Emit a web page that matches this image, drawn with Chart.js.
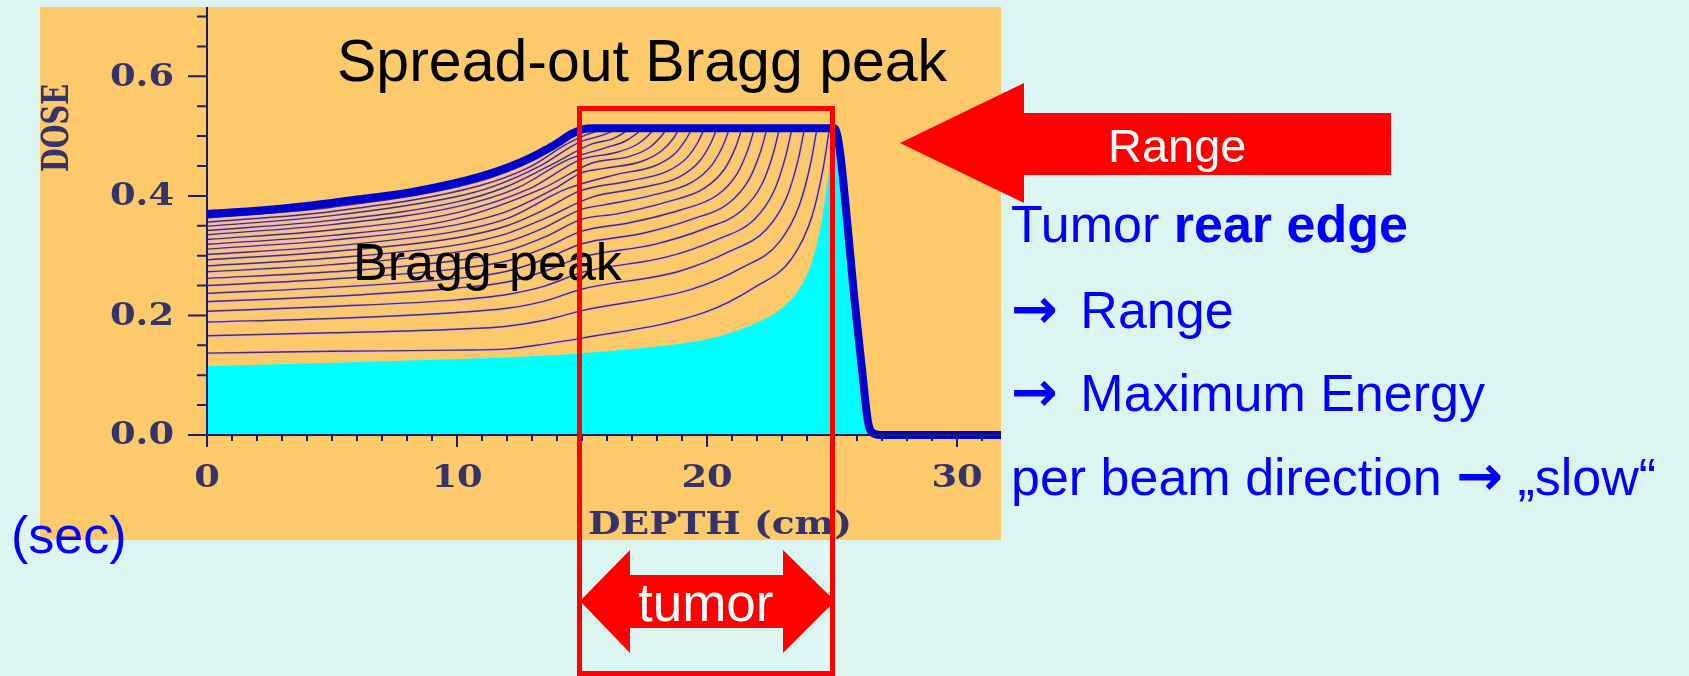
<!DOCTYPE html>
<html lang="en">
<head>
  <meta charset="UTF-8" />
  <title>Spread-out Bragg peak</title>
  <script src="https://cdn.jsdelivr.net/npm/chart.js"></script>
  <style>
    html, body { margin: 0; padding: 0; }
    body {
      width: 1689px; height: 676px; position: relative; overflow: hidden;
      background: #ddf5f1;
      font-family: "Liberation Sans", Arial, sans-serif;
    }
    #panel { position: absolute; left: 40px; top: 7px; width: 961px; height: 533px; background: #fcc96b; }
    #panel canvas { display: block; }
    .txt { position: absolute; white-space: nowrap; line-height: 1; }
    .blue { color: #0000ff; font-size: 52px; left: 1011px; }
    .arr { font-family: "DejaVu Sans", sans-serif; font-weight: bold; font-size: 56px; }
    .gap { margin-right: 8px; }
    .red { position: absolute; background: #ff0000; }
    #tumorBox { position: absolute; left: 577px; top: 106px; width: 258px; height: 570px; border: 5px solid #ff0000; box-sizing: border-box; }
  </style>
</head>
<body>

  <div id="panel"><canvas id="dose" width="961" height="533"></canvas></div>

  <div class="txt" style="left:337px; top:32px; font-size:59px; color:#000;">Spread-out Bragg peak</div>
  <div class="txt" style="left:353px; top:236px; font-size:52px; color:#000;">Bragg-peak</div>

  <div id="tumorBox"></div>

  <!-- range arrow -->
  <div class="red" style="left:900px; top:83px; width:491px; height:120px;
       clip-path: polygon(0 60px, 124px 0, 124px 30px, 491px 30px, 491px 92px, 124px 92px, 124px 120px);"></div>
  <div class="txt" style="left:1108px; top:122px; font-size:47px; color:#fff;">Range</div>

  <!-- tumor arrow -->
  <div class="red" style="left:580px; top:550px; width:255px; height:103px;
       clip-path: polygon(0 51px, 50px 0, 50px 25px, 203px 25px, 203px 0, 255px 51px, 203px 103px, 203px 78px, 50px 78px, 50px 103px);"></div>
  <div class="txt" style="left:638px; top:576px; font-size:53px; color:#fff;">tumor</div>

  <div class="txt blue" style="top:198px;">Tumor <b>rear edge</b></div>
  <div class="txt blue" style="top:281px;"><span class="arr gap">→</span> Range</div>
  <div class="txt blue" style="top:364px;"><span class="arr gap">→</span> Maximum Energy</div>
  <div class="txt blue" style="top:448px;">per beam direction <span class="arr">→</span> „slow“</div>
  <div class="txt blue" style="left:11px; top:509px;">(sec)</div>

  <script>
    // spread-out peak (thick blue)
    const SOBP_DEPTH = [0, 2, 4, 6, 8, 10, 11, 12, 13, 13.5, 14, 14.5, 15, 15.5, 25.1, 25.3, 25.6, 25.9, 26.2, 26.45, 26.7, 27, 31.76];
    const SOBP_DOSE  = [0.370, 0.375, 0.383, 0.394, 0.405, 0.422, 0.433, 0.447, 0.465, 0.476, 0.488, 0.502, 0.511, 0.513, 0.513, 0.480, 0.360, 0.226, 0.110, 0.020, 0.002, 0, 0];

    // deepest single peak (cyan area)
    const PRISTINE_DEPTH = [0, 5, 10, 14, 17, 19, 20.5, 22, 23, 23.7, 24.2, 24.6, 24.9, 25.1, 25.3, 25.6, 25.9, 26.2, 26.45, 26.7];
    const PRISTINE_DOSE  = [0.115, 0.121, 0.127, 0.134, 0.144, 0.153, 0.165, 0.188, 0.212, 0.245, 0.290, 0.360, 0.450, 0.505, 0.470, 0.350, 0.220, 0.100, 0.015, 0];

    // partial sums, [depth, dose]
    const PARTIAL_SUMS = [
      [[0, .363], [5, .381], [10.4, .419], [12.4, .447], [13.9, .479], [14.7, .501], [15.15, .510], [15.4, .513]],
      [[0, .356], [5, .374], [10.9, .417], [12.9, .448], [14.4, .487], [15.2, .503], [15.65, .509], [15.9, .513]],
      [[0, .349], [5, .367], [10, .399], [11.4, .415], [13.4, .452], [14.9, .490], [15.7, .500], [16.15, .507], [16.4, .513]],
      [[0, .342], [5, .359], [10, .390], [11.9, .414], [13.9, .455], [15.4, .487], [16.2, .495], [16.65, .505], [16.9, .513]],
      [[0, .335], [5, .352], [10, .382], [12.4, .413], [14.4, .460], [15.9, .480], [16.7, .491], [17.15, .503], [17.4, .513]],
      [[0, .327], [5, .343], [10, .372], [12.9, .412], [14.9, .460], [16.4, .473], [17.2, .486], [17.65, .501], [17.9, .513]],
      [[0, .319], [5, .334], [10, .362], [13.4, .412], [15.4, .455], [16.9, .466], [17.7, .481], [18.15, .499], [18.4, .513]],
      [[0, .311], [5, .326], [10, .352], [12, .374], [13.9, .412], [15, .439], [15.9, .446], [17.4, .458], [18.2, .476], [18.65, .496], [18.9, .513]],
      [[0, .302], [5, .316], [10, .341], [12, .362], [14.4, .412], [16.4, .436], [17.9, .450], [18.7, .470], [19.15, .494], [19.4, .513]],
      [[0, .293], [5, .307], [10, .330], [12, .350], [13.5, .377], [14.9, .408], [16.9, .425], [18.4, .441], [19.2, .464], [19.65, .491], [19.9, .513]],
      [[0, .283], [5, .296], [10, .318], [12, .337], [13.5, .362], [15.4, .398], [17.4, .414], [18.9, .432], [19.7, .458], [20.15, .488], [20.4, .513]],
      [[0, .273], [5, .285], [10, .306], [12, .323], [13.5, .347], [15, .378], [15.9, .385], [17.9, .402], [19.4, .423], [20.2, .452], [20.65, .485], [20.9, .513]],
      [[0, .262], [5, .273], [10, .292], [12, .308], [13.5, .331], [15, .361], [16.4, .370], [18.4, .390], [19.9, .413], [20.7, .445], [21.15, .482], [21.4, .513]],
      [[0, .250], [5, .261], [10, .278], [12, .291], [13.5, .313], [15, .341], [16.9, .355], [18.9, .376], [20.4, .401], [21.2, .437], [21.65, .479], [21.9, .513]],
      [[0, .237], [5, .247], [10, .262], [12, .274], [13.5, .294], [15, .320], [17.4, .337], [19.4, .361], [20.9, .389], [21.7, .429], [22.15, .475], [22.4, .513]],
      [[0, .223], [5, .232], [10, .246], [12, .256], [13.5, .274], [15, .298], [17.9, .319], [19.9, .345], [21.4, .376], [22.2, .420], [22.65, .471], [22.9, .513]],
      [[0, .207], [5, .215], [10, .226], [12, .235], [13.5, .249], [15, .272], [18.4, .298], [20.4, .327], [21.9, .361], [22.7, .410], [23.15, .467], [23.4, .513]],
      [[0, .189], [5, .195], [10, .205], [12, .212], [13.5, .224], [15, .244], [18.9, .274], [20.9, .307], [22.4, .345], [23.2, .399], [23.65, .461], [23.9, .513]],
      [[0, .166], [5, .171], [10, .177], [12, .182], [13.5, .192], [15, .208], [19.4, .244], [21.4, .280], [22.9, .323], [23.7, .385], [24.15, .455], [24.4, .513]],
      [[0, .137], [5, .140], [10, .142], [12, .144], [13.5, .152], [15, .162], [19.9, .205], [21.9, .247], [23.4, .296], [24.2, .366], [24.65, .447], [24.9, .513]]
    ];

    const X_MAX = 31.76;
    const Y_MAX = 0.716;
    const X_TICKS = [0, 10, 20, 30];
    const X_MINOR = [1, 2, 3, 4, 5, 6, 7, 8, 9, 11, 12, 13, 14, 15, 16, 17, 18, 19, 21, 22, 23, 24, 25, 26, 27, 28, 29, 31];
    const Y_TICKS = [0, 0.2, 0.4, 0.6];
    const Y_MINOR = [0.05, 0.1, 0.15, 0.25, 0.3, 0.35, 0.45, 0.5, 0.55, 0.65, 0.7];

    const AXIS_COLOR = '#1e1e66';
    const LABEL_COLOR = '#34346a';

    const toPoints = (xs, ys) => xs.map((x, i) => ({ x, y: ys[i] }));

    const stretchText = (ctx, text, x, y, sx, align) => {
      ctx.save();
      ctx.translate(x, y);
      ctx.scale(sx, 1);
      ctx.textAlign = align;
      ctx.fillText(text, 0, 0);
      ctx.restore();
    };

    // axes drawn by hand so we get minor ticks and the old plotter look
    const oldAxes = {
      id: 'oldAxes',
      afterDatasetsDraw(chart) {
        const { ctx, scales: { x, y } } = chart;
        const x0 = x.getPixelForValue(0);
        const y0 = y.getPixelForValue(0);
        ctx.save();
        ctx.strokeStyle = AXIS_COLOR;
        ctx.lineWidth = 2;
        ctx.beginPath();
        ctx.moveTo(x0, y.getPixelForValue(Y_MAX));
        ctx.lineTo(x0, y0 + 12);
        ctx.moveTo(x0 - 19, y0);
        ctx.lineTo(x.right, y0);
        Y_TICKS.forEach(v => { const p = y.getPixelForValue(v); ctx.moveTo(x0 - 19, p); ctx.lineTo(x0, p); });
        Y_MINOR.forEach(v => { const p = y.getPixelForValue(v); ctx.moveTo(x0 - 10, p); ctx.lineTo(x0, p); });
        X_TICKS.forEach(v => { const p = x.getPixelForValue(v); ctx.moveTo(p, y0); ctx.lineTo(p, y0 + 12); });
        X_MINOR.forEach(v => { const p = x.getPixelForValue(v); ctx.moveTo(p, y0); ctx.lineTo(p, y0 + 6); });
        ctx.stroke();

        ctx.fillStyle = LABEL_COLOR;
        ctx.font = 'bold 32px "DejaVu Serif"';
        ctx.textBaseline = 'middle';
        Y_TICKS.forEach(v => stretchText(ctx, v.toFixed(1), x0 - 33, y.getPixelForValue(v) + 1, 1.15, 'right'));
        X_TICKS.forEach(v => stretchText(ctx, String(v), x.getPixelForValue(v), y0 + 44, 1.15, 'center'));

        // axis titles
        ctx.font = 'bold 31px "DejaVu Serif"';
        ctx.textBaseline = 'alphabetic';
        const depth = 'DEPTH (cm)';
        stretchText(ctx, depth, 680, 527, 264 / ctx.measureText(depth).width, 'center');

        ctx.font = 'bold 37px "DejaVu Serif"';
        ctx.textBaseline = 'middle';
        ctx.translate(18, 121);
        ctx.rotate(-Math.PI / 2);
        stretchText(ctx, 'DOSE', 0, 0, 88 / ctx.measureText('DOSE').width, 'center');
        ctx.restore();
      }
    };

    const datasets = [{
      label: 'pristine peak',
      data: toPoints(PRISTINE_DEPTH, PRISTINE_DOSE),
      fill: 'origin',
      backgroundColor: '#00ffff',
      borderWidth: 0,
      order: 40
    }];

    PARTIAL_SUMS.forEach(pts => {
      datasets.push({
        data: pts.map(([x, y]) => ({ x, y })),
        borderColor: 'rgba(232,182,214,0.9)',
        borderWidth: 3.8,
        order: 30
      });
      datasets.push({
        data: pts.map(([x, y]) => ({ x, y })),
        borderColor: '#4a3346',
        borderWidth: 1.4,
        order: 20
      });
    });

    datasets.push({
      label: 'SOBP',
      data: toPoints(SOBP_DEPTH, SOBP_DOSE),
      borderColor: '#0000cc',
      borderWidth: 8,
      borderJoinStyle: 'round',
      clip: false,
      order: 0
    });

    new Chart(document.getElementById('dose'), {
      type: 'line',
      data: { datasets },
      options: {
        responsive: false,
        animation: false,
        events: [],
        layout: { padding: 0 },
        elements: {
          point: { radius: 0 },
          line: { cubicInterpolationMode: 'monotone', fill: false }
        },
        plugins: { legend: { display: false }, tooltip: { enabled: false } },
        scales: {
          x: {
            type: 'linear', min: 0, max: X_MAX,
            grid: { display: false }, border: { display: false },
            ticks: { display: false },
            afterFit: s => { s.height = 105; }
          },
          y: {
            min: 0, max: Y_MAX,
            grid: { display: false }, border: { display: false },
            ticks: { display: false },
            afterFit: s => { s.width = 167; }
          }
        }
      },
      plugins: [oldAxes]
    });
  </script>
</body>
</html>
